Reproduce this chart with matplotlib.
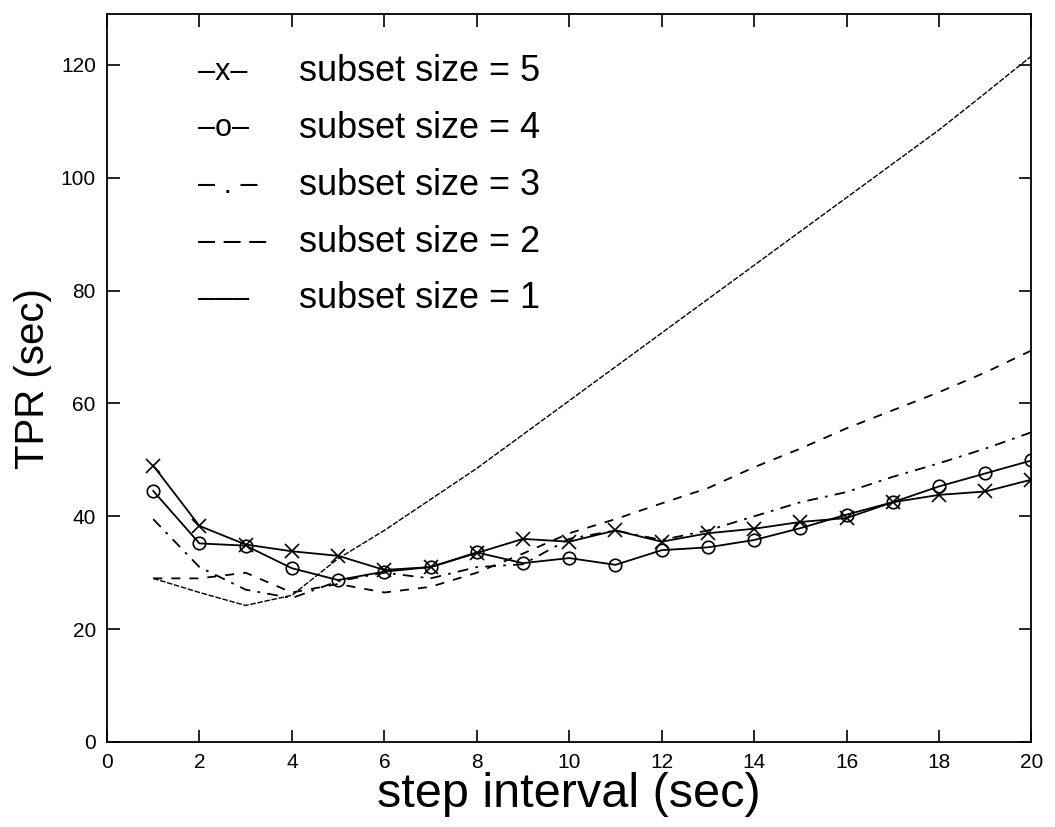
import numpy as np
import matplotlib
matplotlib.use("Agg")
from matplotlib import pyplot as plt

# === données ===
step = np.arange(1, 21)

tpr_size5 = [49, 38.3, 35, 33.8, 33, 30.5, 31, 33.5, 36, 35.5,
             37.5, 35.5, 37, 37.8, 39, 39.7, 42.5, 43.8, 44.4, 46.5]
tpr_size4 = [44.5, 35.2, 34.8, 30.8, 28.7, 30.2, 31, 33.6, 31.7, 32.6,
             31.4, 34, 34.5, 35.8, 37.9, 40.3, 42.5, 45.3, 47.6, 49.9]
tpr_size3 = [39.5, 31, 27, 25.5, 28.5, 30, 29, 31, 31.5, 36,
             37.5, 35.8, 37.5, 40, 42.5, 44.3, 47, 49.4, 52, 54.9]
tpr_size2 = [29, 29, 30, 26.5, 28, 26.5, 27.5, 30, 33.4, 37,
             39.5, 42.3, 45, 48.7, 52, 55.6, 58.8, 62, 65.5, 69.4]
tpr_size1 = [29, 26.5, 24.2, 26, 32.5, 37.5, 43, 48.5, 54.5, 60.5,
             66.5, 72.5, 78.5, 84.5, 90.5, 96.5, 102.5, 108.5, 115, 121.6]

legend_symbols = ["\u2013x\u2013", "\u2013o\u2013", "\u2013 . \u2013", "\u2013 \u2013 \u2013", "\u2013\u2013\u2013"]
legend_labels = ["subset size = 5", "subset size = 4", "subset size = 3",
                 "subset size = 2", "subset size = 1"]

x_ticks = np.arange(0, 21, 2)
y_ticks = np.arange(0, 121, 20)

plt.rcParams['font.family'] = ['Liberation Sans', 'DejaVu Sans']

# === figure ===
fig = plt.figure(figsize=(10.55, 8.27), dpi=100)
ax = fig.add_axes([0.1014, 0.1028, 0.8763, 0.880])

ax.plot(step, tpr_size5, color='black', lw=1.3, marker='x', ms=10, mew=1.2)
ax.plot(step, tpr_size4, color='black', lw=1.3, marker='o', ms=9, mfc='none', mew=1.2)
ax.plot(step, tpr_size3, color='black', lw=1.3, linestyle=(0, (6, 4, 1.5, 4)))
ax.plot(step, tpr_size2, color='black', lw=1.3, linestyle=(0, (5, 5)))
ax.plot(step, tpr_size1, color='black', lw=1.0, linestyle=(0, (4, 1.2)))

ax.set_xlim(0, 20)
ax.set_ylim(0, 129)
ax.set_xticks(x_ticks)
ax.set_yticks(y_ticks)
ax.tick_params(direction='in', length=9, width=1.2, top=True, right=True,
               labelsize=15, pad=8)
for sp in ax.spines.values():
    sp.set_linewidth(1.3)

ax.set_xlabel("step interval (sec)", fontsize=35, labelpad=0)
ax.set_ylabel("TPR (sec)", fontsize=29, labelpad=6)

# légende dessinée en texte, comme sur l'original
for i, (sym, lab) in enumerate(zip(legend_symbols, legend_labels)):
    y = 0.921 - i * 0.078
    ax.text(0.098, y, sym, transform=ax.transAxes, fontsize=22, va='center', ha='left')
    ax.text(0.208, y, lab, transform=ax.transAxes, fontsize=26, va='center', ha='left')

fig.savefig("out.png", dpi=100)
